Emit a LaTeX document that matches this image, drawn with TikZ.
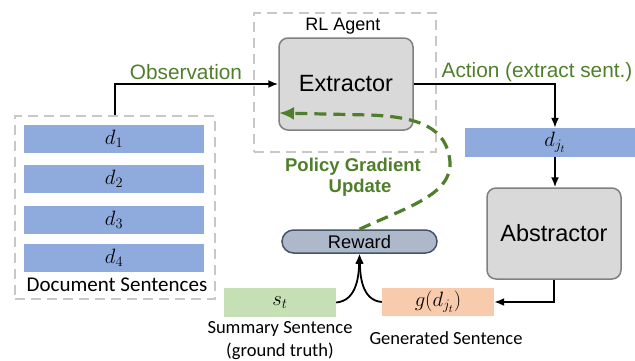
\documentclass[tikz,border=0pt]{standalone}
\usepackage{fontspec}
\setmainfont{Liberation Sans}
\newfontfamily\calibri{Carlito}
\usetikzlibrary{arrows.meta}
\definecolor{sentblue}{HTML}{8FAADC}
\definecolor{stgreen}{HTML}{C5E0B4}
\definecolor{gorange}{HTML}{F8CBAD}
\definecolor{procgray}{HTML}{D9D9D9}
\definecolor{procborder}{HTML}{808080}
\definecolor{rewardfill}{HTML}{ADB9CA}
\definecolor{rewardborder}{HTML}{44546A}
\definecolor{labelgreen}{HTML}{4F7F2A}
\definecolor{dashgray}{HTML}{C8C8C8}
\tikzset{
  dashbox/.style={draw=dashgray, line width=2.8pt, dash pattern=on 10pt off 6pt, inner sep=0pt},
  sentbox/.style={fill=sentblue, minimum width=180pt, minimum height=28pt, inner sep=0pt, font=\fontsize{22.5}{26}\selectfont},
  procbox/.style={draw=procborder, fill=procgray, line width=1.5pt, rounded corners=9pt, inner sep=0pt, font=\fontsize{23.5}{28}\selectfont},
  arr/.style={draw=black, line width=1.8pt, -{Latex[length=10pt,width=8pt]}},
  greenlabel/.style={text=labelgreen, font=\fontsize{20.8}{24}\selectfont},
  pglabel/.style={text=labelgreen, font=\bfseries\fontsize{18.5}{22}\selectfont},
  callabel/.style={font=\calibri\fontsize{18.5}{22}\selectfont},
  pgline/.style={draw=labelgreen, line width=3.2pt, dash pattern=on 12pt off 7pt, -{Latex[length=15pt,width=13pt]}},
}
\begin{document}
\begin{tikzpicture}[x=1pt,y=-1pt]
\useasboundingbox (0,0) rectangle (635,360);
% document sentences
\node[dashbox, minimum width=200pt, minimum height=183pt] (docs) at (115,207.5) {};
\node[sentbox] (d1) at (114,139) {$d_1$};
\node[sentbox] (d2) at (114,179) {$d_2$};
\node[sentbox] (d3) at (114,220) {$d_3$};
\node[sentbox] (d4) at (114,258) {$d_4$};
\node[font=\calibri\fontsize{21}{24}\selectfont] (doclabel) at (117,285) {Document Sentences};
% RL agent
\node[dashbox, minimum width=182pt, minimum height=139pt] (agent) at (345,82.5) {};
\node[font=\fontsize{18}{22}\selectfont] (agentlabel) at (343,26) {RL Agent};
\node[procbox, minimum width=134pt, minimum height=92pt] (extractor) at (346,84) {Extractor};
% selected sentence and abstractor
\node[sentbox, minimum width=180pt, minimum height=29pt] (dj) at (555,142.5) {$d_{j_t}$};
\node[procbox, minimum width=134pt, minimum height=91pt] (abstractor) at (554,233.5) {Abstractor};
% reward, sentences
\node[draw=rewardborder, fill=rewardfill, line width=1.5pt, minimum width=155pt, minimum height=23pt, rounded corners=11.5pt, inner sep=0pt, font=\fontsize{18.3}{22}\selectfont] (reward) at (359.5,241.5) {Reward};
\node[fill=stgreen, minimum width=112pt, minimum height=29pt, inner sep=0pt, font=\fontsize{22.5}{26}\selectfont] (st) at (280,302.5) {$s_t$};
\node[fill=gorange, minimum width=112pt, minimum height=28pt, inner sep=0pt, font=\fontsize{22.5}{26}\selectfont] (g) at (438,302) {$g(d_{j_t})$};
\node[callabel] (stlabel1) at (280,329) {Summary Sentence};
\node[callabel] (stlabel2) at (280,351) {(ground truth)};
\node[callabel] (glabel) at (446,338) {Generated Sentence};
% labels
\node[greenlabel] (obslabel) at (186,72) {Observation};
\node[greenlabel] (actlabel) at (537,72) {Action (extract sent.)};
\node[pglabel] (pglabel1) at (353,167) {Policy Gradient};
\node[pglabel] (pglabel2) at (360,188) {Update};
% connectors
\draw[arr] (docs.north) |- (extractor.west);
\draw[arr] (extractor.east) -| (dj.north);
\draw[arr] (dj.south) -- (abstractor.north -| dj.south);
\draw[arr] (abstractor.south) |- (g.east);
\draw[arr] (st.east) to[out=5,in=-92] (reward.south);
\draw[arr] (g.west) to[out=175,in=-88] (reward.south);
\coordinate (pgend) at (279,113);
\draw[pgline] (reward.north) .. controls (405,208) and (452,195) .. (450,162) .. controls (447,128) and (420,117) .. (370,115) -- (pgend);
\end{tikzpicture}
\end{document}
